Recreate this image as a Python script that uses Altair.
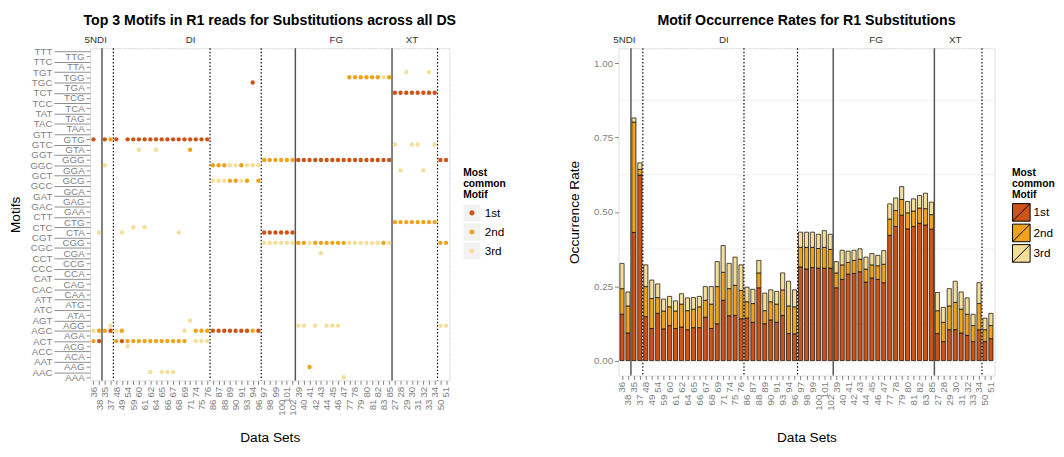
import json
import altair as alt
import pandas as pd

# ---------------- data ----------------
datasets = ["36", "38", "35", "37", "48", "49", "54", "59", "60", "61", "62", "64", "65", "66", "67",
            "68", "69", "71", "74", "75", "76", "86", "87", "88", "89", "90", "91", "93", "94", "96",
            "97", "98", "99", "100", "101", "102", "39", "40", "41", "42", "43", "44", "45", "46", "47",
            "77", "78", "79", "80", "81", "82", "83", "85", "27", "28", "29", "30", "31", "32", "33",
            "34", "50", "51"]

motifs = ["TTT", "TTG", "TTC", "TTA", "TGT", "TGG", "TGC", "TGA", "TCT", "TCG", "TCC", "TCA",
          "TAT", "TAG", "TAC", "TAA", "GTT", "GTG", "GTC", "GTA", "GGT", "GGG", "GGC", "GGA",
          "GCT", "GCG", "GCC", "GCA", "GAT", "GAG", "GAC", "GAA", "CTT", "CTG", "CTC", "CTA",
          "CGT", "CGG", "CGC", "CGA", "CCT", "CCG", "CCC", "CCA", "CAT", "CAG", "CAC", "CAA",
          "ATT", "ATG", "ATC", "ATA", "AGT", "AGG", "AGC", "AGA", "ACT", "ACG", "ACC", "ACA",
          "AAT", "AAG", "AAC", "AAA"]

groups = ["5NDI", "DI", "FG", "XT"]
group_pos = [1.4, 18.1, 43.7, 57.0]
solid_lines = [2.5, 36.5, 53.5]
dotted_lines = [4.5, 21.5, 30.5, 61.5]

first_motif = ["GTG", "ACT", "GTG", "AGC", "GTG", "ACT",
               "GTG", "GTG", "GTG", "GTG", "GTG", "GTG", "GTG", "GTG", "GTG", "GTG", "GTG", "GTG",
               "GTG", "GTG", "GTG",
               "AGC", "AGC", "AGC", "AGC", "AGC", "AGC", "AGC", "TGC", "AGC",
               "CTA", "CTA", "CTA", "CTA", "CTA", "CTA",
               "GGG", "GGG", "GGG", "GGG", "GGG", "GGG", "GGG", "GGG", "GGG", "GGG", "GGG", "GGG",
               "GGG", "GGG", "GGG", "GGG", "GGG",
               "TCT", "TCT", "TCT", "TCT", "TCT", "TCT", "TCT", "TCT", "GGG", "GGG"]
second_motif = ["ACT", "AGC", "AGC", "GTG", "ACT", "AGC",
                "ACT", "ACT", "ACT", "ACT", "ACT", "ACT", "ACT", "ACT", "ACT", "ACT", "ACT", "GTA",
                "AGC", "AGC", "AGC",
                "GGC", "GGC", "GGC", "GCG", "GCG", "GGC", "GCG", "AGC", "GCG",
                "GGG", "GGG", "GGG", "GGG", "GGG", "GGG",
                "CGG", "CGG", "AAG", "CGG", "CGG", "CGG", "CGG", "CGG", "CGG", "TGG", "TGG", "TGG",
                "TGG", "TGG", "TGG", "CGG", "TGG",
                "CTG", "CTG", "CTG", "CTG", "CTG", "CTG", "CTG", "CTG", "CGG", "CGG"]
third_motif = ["AGC", "CTA", "GGC", "AGG", "AGC", "CTA",
               "ACG", "CTC", "GTA", "CTC", "AAC", "GTA", "AAC", "AAC", "AAC", "CTA", "AGC", "AGT",
               "ACT", "ACT", "ACT",
               "GCG", "GCG", "GCG", "GGC", "GGC", "GCG", "GGC", "GGC", "GGC",
               "CGG", "CGG", "CGG", "CGG", "CGG", "CGG",
               "AGG", "AGG", "CGG", "AGG", "CGA", "AGG", "AGG", "AGG", "AAA", "CGG", "CGG", "CGG",
               "CGG", "CGG", "CGG", "TGG", "CGG",
               "GTC", "GGA", "TGT", "GTC", "GTC", "GGA", "TGT", "GTC", "AGG", "AGG"]

rate1 = [0.156, 0.093, 0.431, 0.624, 0.148, 0.108, 0.159, 0.107, 0.118, 0.108, 0.113, 0.104,
         0.111, 0.111, 0.146, 0.108, 0.124, 0.203, 0.151, 0.152, 0.141, 0.143, 0.129, 0.245,
         0.124, 0.137, 0.129, 0.152, 0.091, 0.090, 0.315, 0.308, 0.313, 0.311, 0.311, 0.311,
         0.245, 0.273, 0.291, 0.293, 0.299, 0.264, 0.278, 0.273, 0.262, 0.421, 0.451, 0.489,
         0.443, 0.451, 0.462, 0.456, 0.442, 0.091, 0.064, 0.104, 0.104, 0.093, 0.085, 0.064,
         0.104, 0.064, 0.074]
rate2 = [0.086, 0.091, 0.371, 0.019, 0.101, 0.101, 0.053, 0.060, 0.063, 0.059, 0.077, 0.064,
         0.062, 0.070, 0.057, 0.082, 0.125, 0.094, 0.091, 0.101, 0.095, 0.055, 0.063, 0.050,
         0.044, 0.061, 0.061, 0.086, 0.093, 0.091, 0.066, 0.073, 0.068, 0.066, 0.070, 0.063,
         0.050, 0.049, 0.039, 0.044, 0.042, 0.044, 0.044, 0.046, 0.062, 0.055, 0.054, 0.053,
         0.054, 0.052, 0.051, 0.055, 0.049, 0.077, 0.065, 0.080, 0.092, 0.080, 0.071, 0.054,
         0.088, 0.040, 0.044]
rate3 = [0.085, 0.047, 0.014, 0.022, 0.073, 0.062, 0.046, 0.040, 0.035, 0.034, 0.035, 0.043,
         0.039, 0.035, 0.046, 0.059, 0.084, 0.090, 0.085, 0.095, 0.086, 0.049, 0.048, 0.042,
         0.059, 0.040, 0.043, 0.057, 0.083, 0.057, 0.051, 0.051, 0.051, 0.048, 0.056, 0.051,
         0.038, 0.049, 0.038, 0.034, 0.035, 0.040, 0.038, 0.035, 0.046, 0.051, 0.042, 0.043,
         0.038, 0.041, 0.042, 0.052, 0.042, 0.061, 0.050, 0.058, 0.071, 0.058, 0.055, 0.038,
         0.070, 0.039, 0.041]

ranks = ["1st", "2nd", "3rd"]
key_ids = ["k1", "k2", "k3"]
rank_colors = ["#CC5418", "#F0A21B", "#F5DE98"]
minor_grid = [0.125, 0.375, 0.625, 0.875]

# ---------------- tables ----------------
pt_rows = []
for i in range(len(datasets)):
    for r, k, mlist in zip(ranks, key_ids, [first_motif, second_motif, third_motif]):
        pt_rows.append({"idx": i + 1, "motif": motifs.index(mlist[i]), "rank": r, "rank_key": k})
pts = pd.DataFrame(pt_rows)

bar_rows = []
for i in range(len(datasets)):
    lo = 0.0
    for r, vals in zip(ranks, [rate1, rate2, rate3]):
        hi = lo + vals[i]
        bar_rows.append({"idx": i + 1, "lo": lo, "hi": hi, "rank_r": r})
        lo = hi
bars = pd.DataFrame(bar_rows)

glab = pd.DataFrame({"pos": group_pos, "g": groups})
solid_df = pd.DataFrame({"pos": solid_lines})
dotted_df = pd.DataFrame({"pos": dotted_lines})
minor_df = pd.DataFrame({"v": minor_grid})

FONT = "Liberation Sans"
GRAY = "#7F7F7F"
ds_js = json.dumps(datasets)
mt_js = json.dumps(motifs)


def x_axis(title_pad):
    return alt.Axis(
        values=list(range(1, 64)), tickCount=200, labelExpr=f"{ds_js}[datum.value-1]",
        labelAngle=270, labelAlign="right", labelBaseline="middle",
        labelPadding={"condition": {"test": "datum.value % 2 == 0", "value": 15}, "value": 2},
        labelOverlap=False, labelFlush=False, labelFontSize=10, labelColor=GRAY,
        tickSize=4, tickColor=GRAY, domain=False, grid=True, gridColor="white", gridWidth=1,
        title="Data Sets", titleFontSize=14, titleFontWeight="normal", titleColor="black",
        titlePadding=title_pad, titleFont=FONT, labelFont=FONT)


xs_l = alt.Scale(domain=[0.4, 63.6], nice=False, zero=False)
ys_l = alt.Scale(domain=[-0.6, 63.6], nice=False, zero=False, reverse=True)

y_axis_l = alt.Axis(
    values=list(range(64)), tickCount=200, labelExpr=f"{mt_js}[datum.value]",
    tickSize={"condition": {"test": "datum.value % 2 == 0", "value": 37}, "value": 4},
    labelPadding=2, labelOverlap=False, labelFlush=False, labelFontSize=10, labelColor=GRAY,
    tickColor="#8C8C8C", domain=False, grid=True, gridColor="white", gridWidth=1,
    title="Motifs", titleFontSize=14, titleFontWeight="normal", titleColor="black",
    titlePadding=7, titleFont=FONT, labelFont=FONT)

# small dot inside an invisible full-size box, so that its entries have the same height as the keys
circle_path = "M-1,-1M1,1M0.3,0A0.3,0.3 0 1,1 -0.3,0A0.3,0.3 0 1,1 0.3,0Z"
leg_title = ["Most", "common", "Motif"]

base_l = alt.Chart(pts)
points = base_l.mark_circle(size=20, opacity=1).encode(
    x=alt.X("idx:Q", scale=xs_l, axis=x_axis(16)),
    y=alt.Y("motif:Q", scale=ys_l, axis=y_axis_l),
    fill=alt.Fill("rank:N", scale=alt.Scale(domain=ranks, range=rank_colors),
                  legend=alt.Legend(title=leg_title, orient="none", legendX=382, legendY=123,
                                    symbolType=circle_path, symbolSize=300, symbolStrokeWidth=0,
                                    symbolOpacity=1, titleFontSize=10.5, titleFontWeight="bold",
                                    titleLineHeight=11, titleColor="black", titleFont=FONT,
                                    labelFont=FONT, labelFontSize=12, labelColor="black",
                                    labelOffset=4, rowPadding=1.5, titlePadding=4, padding=0,
                                    zindex=2)),
)
keys = base_l.mark_square(size=20, opacity=0).encode(
    x=alt.X("idx:Q", scale=xs_l),
    y=alt.Y("motif:Q", scale=ys_l),
    color=alt.Color("rank_key:N", scale=alt.Scale(domain=key_ids, range=["#F2F2F2"] * 3),
                    legend=alt.Legend(title=leg_title, orient="none", legendX=382, legendY=123,
                                      symbolType="square", symbolSize=300, symbolStrokeWidth=0,
                                      symbolOpacity=1, titleFontSize=10.5, titleFontWeight="bold",
                                      titleLineHeight=11, titleOpacity=0, titleFont=FONT,
                                      labelFont=FONT, labelFontSize=12, labelExpr="''",
                                      labelOffset=4, rowPadding=1.5, titlePadding=4, padding=0,
                                      zindex=1)),
)
solid_l = alt.Chart(solid_df).mark_rule(color="#555555", strokeWidth=1.5).encode(
    x=alt.X("pos:Q", scale=xs_l))
dotted_l = alt.Chart(dotted_df).mark_rule(color="black", strokeWidth=1.2, strokeDash=[1.5, 2]).encode(
    x=alt.X("pos:Q", scale=xs_l))
text_l = alt.Chart(glab).mark_text(fontSize=10, color="#333333", baseline="middle", font=FONT).encode(
    x=alt.X("pos:Q", scale=xs_l), y=alt.value(-8), text="g:N")

left = alt.layer(keys, solid_l, dotted_l, points, text_l).properties(
    width=368, height=340,
    title=alt.Title("Top 3 Motifs in R1 reads for Substitutions across all DS", fontSize=14.5,
                    fontWeight="bold", font=FONT, anchor="middle", frame="group", offset=7,
                    color="black"))

# ---------------- right chart ----------------
xs_r = alt.Scale(domain=[0.4, 63.6], nice=False, zero=False)
ys_r = alt.Scale(domain=[-0.05, 1.05], nice=False, zero=False)

bar_path = "M-1,-1H1V1H-1Z M-1,1L1,-1"

minor_r = alt.Chart(minor_df).mark_rule(color="#F2F2F2", strokeWidth=1).encode(
    y=alt.Y("v:Q", scale=ys_r))
bar_ch = alt.Chart(bars).transform_calculate(
    x0="datum.idx - 0.35", x1="datum.idx + 0.35"
).mark_bar(stroke="black", strokeWidth=0.7).encode(
    x=alt.X("x0:Q", scale=xs_r, axis=x_axis(21)),
    x2="x1:Q",
    y=alt.Y("lo:Q", scale=ys_r,
            axis=alt.Axis(values=[0, 0.25, 0.5, 0.75, 1.0], format=".2f", labelFontSize=10,
                          labelColor=GRAY, labelFont=FONT, tickSize=4, tickColor=GRAY,
                          domain=False, grid=True, gridColor="white", gridWidth=1,
                          labelFlush=False, title="Occurrence Rate", titleFontSize=14,
                          titleFontWeight="normal", titleColor="black", titleFont=FONT,
                          titlePadding=12)),
    y2="hi:Q",
    color=alt.Color("rank_r:N", scale=alt.Scale(domain=ranks, range=rank_colors),
                    legend=alt.Legend(title=leg_title, orient="none", legendX=403, legendY=123,
                                      symbolType=bar_path, symbolSize=324,
                                      symbolStrokeColor="black", symbolStrokeWidth=1,
                                      symbolOpacity=1, titleFontSize=10.5, titleFontWeight="bold",
                                      titleLineHeight=11, titleColor="black", titleFont=FONT,
                                      labelFont=FONT, labelFontSize=12, labelColor="black",
                                      labelOffset=3, rowPadding={"expr": "-5"}, titlePadding=3,
                                      padding=0)),
)
solid_r = alt.Chart(solid_df).mark_rule(color="#555555", strokeWidth=1.5).encode(
    x=alt.X("pos:Q", scale=xs_r))
dotted_r = alt.Chart(dotted_df).mark_rule(color="black", strokeWidth=1.2, strokeDash=[1.5, 2]).encode(
    x=alt.X("pos:Q", scale=xs_r))
text_r = alt.Chart(glab).mark_text(fontSize=10, color="#333333", baseline="middle", font=FONT).encode(
    x=alt.X("pos:Q", scale=xs_r), y=alt.value(-8), text="g:N")

right = alt.layer(minor_r, bar_ch, solid_r, dotted_r, text_r).properties(
    width=385, height=335,
    title=alt.Title("Motif Occurrence Rates for R1 Substitutions", fontSize=14.5,
                    fontWeight="bold", font=FONT, anchor="middle", frame="group", offset=7,
                    color="black"))

chart = alt.hconcat(left, right, spacing=62).resolve_scale(
    color="independent", fill="independent", x="independent", y="independent"
).resolve_legend(color="independent", fill="independent").properties(
    padding={"left": 0, "top": 0, "right": 0, "bottom": 0}
).configure_view(fill="#E5E5E5", strokeWidth=0).configure(font=FONT)

chart.save("out.html", embed_options={"renderer": "svg", "actions": False})
